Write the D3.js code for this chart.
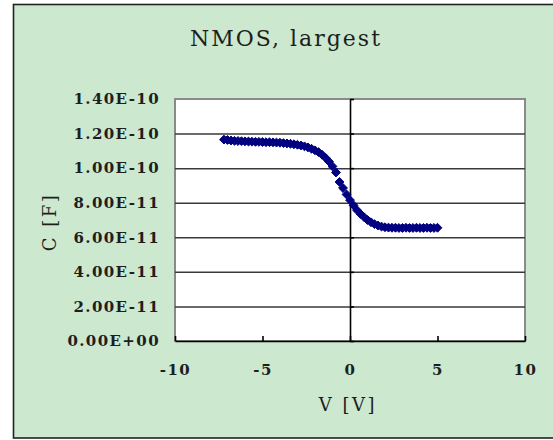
<!DOCTYPE html>
<html>
<head>
<meta charset="utf-8">
<script src="https://cdn.jsdelivr.net/npm/d3@7"></script>
<style>
  body { margin: 0; background: #fff; }
  svg text { font-family: "DejaVu Serif", "Liberation Serif", serif; fill: #1e1e1e; }
  .grid line { stroke: #3a3a3a; stroke-width: 1.5; }
  .grid path { display: none; }
  .yticks path, .yticks line { display: none; }
  .yticks text, .xaxis text { font-size: 15px; font-weight: bold; }
  .xaxis path, .xaxis line, .zero path, .zero line { stroke: #000; stroke-width: 1.6; }
</style>
</head>
<body>
<div id="chart"></div>
<script>
// bias voltage [V]
const voltage = [-7.2, -7.0, -6.8, -6.6, -6.4, -6.2, -6.0, -5.8, -5.6, -5.4,
  -5.2, -5.0, -4.8, -4.6, -4.4, -4.2, -4.0, -3.8, -3.6, -3.4,
  -3.2, -3.0, -2.8, -2.6, -2.4, -2.2, -2.0, -1.8, -1.6, -1.4,
  -1.2, -1.0, -0.8, -0.6, -0.4, -0.2, 0.0, 0.2, 0.4, 0.6,
  0.8, 1.0, 1.2, 1.4, 1.6, 1.8, 2.0, 2.2, 2.4, 2.6,
  2.8, 3.0, 3.2, 3.4, 3.6, 3.8, 4.0, 4.2, 4.4, 4.6,
  4.8, 5.0];
// capacitance [F]
const capacitance = [1.165e-10, 1.163e-10, 1.160e-10, 1.158e-10, 1.157e-10, 1.156e-10, 1.155e-10, 1.154e-10, 1.153e-10, 1.152e-10,
  1.152e-10, 1.151e-10, 1.150e-10, 1.150e-10, 1.149e-10, 1.148e-10, 1.147e-10, 1.145e-10, 1.143e-10, 1.141e-10,
  1.138e-10, 1.135e-10, 1.131e-10, 1.126e-10, 1.120e-10, 1.112e-10, 1.103e-10, 1.093e-10, 1.078e-10, 1.060e-10,
  1.038e-10, 1.010e-10, 9.75e-11, 9.20e-11, 8.85e-11, 8.48e-11, 8.15e-11, 7.85e-11, 7.57e-11, 7.35e-11,
  7.17e-11, 7.00e-11, 6.87e-11, 6.76e-11, 6.68e-11, 6.62e-11, 6.58e-11, 6.56e-11, 6.55e-11, 6.55e-11,
  6.54e-11, 6.54e-11, 6.55e-11, 6.54e-11, 6.54e-11, 6.55e-11, 6.54e-11, 6.54e-11, 6.55e-11, 6.54e-11,
  6.54e-11, 6.55e-11];

const xTicks = [-10, -5, 0, 5, 10];
const yTicks = [0, 2e-11, 4e-11, 6e-11, 8e-11, 1e-10, 1.2e-10, 1.4e-10];
const yTickLabels = ['0.00E+00', '2.00E-11', '4.00E-11', '6.00E-11', '8.00E-11', '1.00E-10', '1.20E-10', '1.40E-10'];

const chartTitle = 'NMOS, largest';
const xLabel = 'V [V]';
const yLabel = 'C [F]';

const width = 553, height = 440;
const plot = { left: 175, right: 525, top: 99, bottom: 341 };

const svg = d3.select('#chart').append('svg')
  .attr('width', width)
  .attr('height', height);

// chart area background + frame
svg.append('rect')
  .attr('x', 13.5).attr('y', 4.5)
  .attr('width', 560).attr('height', 433.5)
  .attr('fill', '#cce8cf')
  .attr('stroke', '#222')
  .attr('stroke-width', 1.6);

const xScale = d3.scaleLinear().domain([-10, 10]).range([plot.left, plot.right]);
const yScale = d3.scaleLinear().domain([0, 1.4e-10]).range([plot.bottom, plot.top]);

// plot area
svg.append('rect')
  .attr('x', plot.left).attr('y', plot.top)
  .attr('width', plot.right - plot.left).attr('height', plot.bottom - plot.top)
  .attr('fill', '#fff')
  .attr('stroke', '#8a8a8a')
  .attr('stroke-width', 2);

// horizontal gridlines
svg.append('g')
  .attr('class', 'grid')
  .attr('transform', `translate(${plot.left},0)`)
  .call(d3.axisLeft(yScale)
    .tickValues(yTicks.filter(d => d > 0 && d < 1.4e-10))
    .tickSize(-(plot.right - plot.left))
    .tickFormat(''));

// y tick labels
svg.append('g')
  .attr('class', 'yticks')
  .attr('transform', `translate(${plot.left},0)`)
  .call(d3.axisLeft(yScale)
    .tickValues(yTicks)
    .tickSize(0)
    .tickPadding(15)
    .tickFormat((d, i) => yTickLabels[i]))
  .selectAll('text')
  .attr('letter-spacing', 1.4);

// vertical axis through V = 0
svg.append('g')
  .attr('class', 'zero')
  .attr('transform', `translate(${xScale(0)},0)`)
  .call(d3.axisRight(yScale)
    .tickValues(yTicks)
    .tickSizeInner(4)
    .tickSizeOuter(0)
    .tickFormat(''));

// x axis along C = 0, ticks pointing up
svg.append('g')
  .attr('class', 'xaxis')
  .attr('transform', `translate(0,${plot.bottom})`)
  .call(d3.axisBottom(xScale)
    .tickValues(xTicks)
    .tickSizeInner(-5)
    .tickSizeOuter(0)
    .tickPadding(23)
    .tickFormat(d => String(d)))
  .selectAll('text')
  .attr('letter-spacing', 1.5);

// markers
const points = voltage.map((v, i) => [v, capacitance[i]]);
svg.append('g')
  .selectAll('path')
  .data(points)
  .join('path')
  .attr('transform', d => `translate(${xScale(d[0])},${yScale(d[1])})`)
  .attr('d', d3.symbol(d3.symbolDiamond2, 50))
  .attr('fill', '#000080')
  .attr('stroke', '#000080')
  .attr('stroke-width', 1);

// titles
svg.append('text')
  .attr('x', 286).attr('y', 46)
  .attr('text-anchor', 'middle')
  .attr('letter-spacing', 2)
  .style('font-size', '22px')
  .text(chartTitle);

svg.append('text')
  .attr('x', 348).attr('y', 411)
  .attr('text-anchor', 'middle')
  .attr('letter-spacing', 2.5)
  .style('font-size', '18px')
  .text(xLabel);

svg.append('text')
  .attr('transform', 'translate(56,222) rotate(-90)')
  .attr('text-anchor', 'middle')
  .attr('letter-spacing', 2.5)
  .style('font-size', '18px')
  .text(yLabel);
</script>
</body>
</html>
